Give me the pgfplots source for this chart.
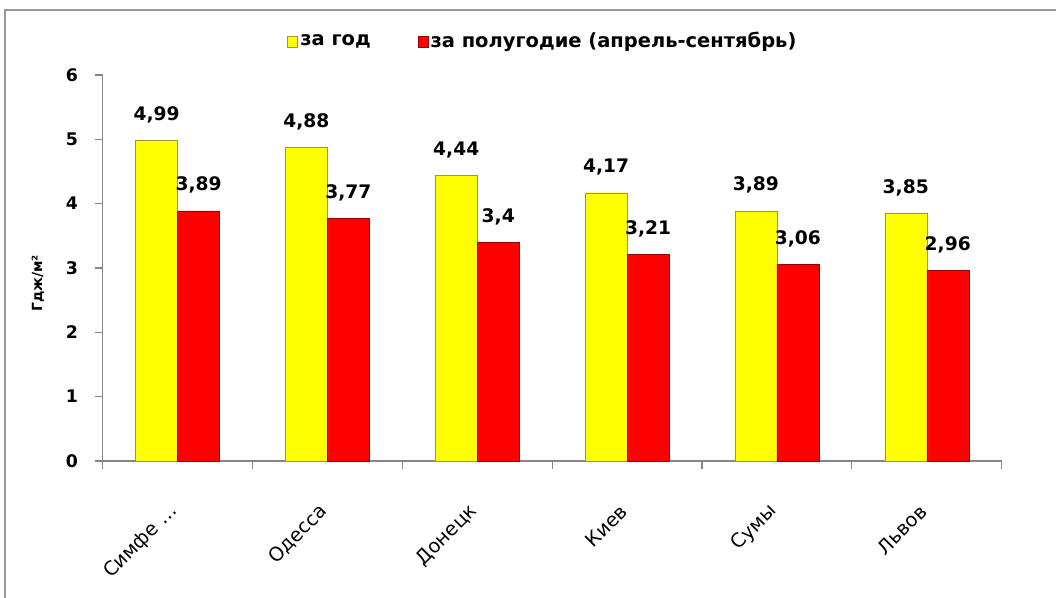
\documentclass[border=0pt]{standalone}
\usepackage{fontspec}
\setmainfont{DejaVu Sans}
\usepackage{pgfplots}
\pgfplotsset{compat=1.18}
\definecolor{ycol}{RGB}{255,255,0}
\definecolor{rcol}{RGB}{255,0,0}
\definecolor{axgray}{RGB}{134,134,134}
\begin{document}
\begin{tikzpicture}
\useasboundingbox (0pt,0pt) rectangle (792pt,-447.75pt);
\fill[white] (0pt,0pt) rectangle (792pt,-447.75pt);
\draw[color=black!40, line width=1.2pt] (3.75pt,-470pt) -- (3.75pt,-7.5pt) -- (820pt,-7.5pt);
\begin{axis}[
  at={(77pt,-345.75pt)}, anchor=south west,
  scale only axis, width=674.25pt, height=289.5pt,
  xmin=-0.5, xmax=5.5, ymin=0, ymax=6,
  clip=false,
  axis x line*=bottom, axis y line*=left,
  axis line style={draw=axgray, line width=0.9pt},
  tick align=outside,
  major tick length=6pt, minor tick length=6pt,
  ytick={0,1,2,3,4,5,6},
  ytick style={draw=axgray, line width=0.9pt},
  yticklabel style={font=\bfseries\fontsize{13}{15}\selectfont, xshift=-9pt},
  /pgf/number format/assume math mode=true,
  xtick={0,1,2,3,4,5},
  xticklabels={{Симфе \ldots}, Одесса, Донецк, Киев, Сумы, Львов},
  xtick style={draw=none},
  minor xtick={-0.5,0.5,1.5,2.5,3.5,4.5,5.5},
  minor x tick style={draw=axgray, line width=0.9pt},
  xticklabel style={font=\fontsize{14.5}{17}\selectfont, yshift=-27pt, rotate=45, anchor=east},
  ylabel={Гдж/м²},
  ylabel style={font=\bfseries\fontsize{10.5}{12}\selectfont, at={(axis description cs:-0.072,0.46)}, anchor=center, rotate=0},
  bar width=31.5pt,
  nodes near coords={\pgfmathprintnumber[use comma, fixed, precision=2]{\pgfplotspointmeta}},
  every node near coord/.append style={font=\bfseries\fontsize{14}{16}\selectfont, anchor=south, yshift=9.5pt},
  legend columns=2,
  legend style={at={(axis description cs:0.49,1.088)}, anchor=center, draw=none, fill=none,
    font=\bfseries\fontsize{14.6}{16}\selectfont,
    /tikz/every even column/.append style={column sep=33pt}},
  legend image code/.code={\fill[#1] (0pt,-4.5pt) rectangle (7.5pt,4pt);},
]
\addplot[ybar, bar shift=-15.75pt, fill=ycol, draw=yellow!55!black, line width=0.3pt,
  every node near coord/.append style={xshift=-15.75pt}]
  coordinates {(0,4.99) (1,4.88) (2,4.44) (3,4.17) (4,3.89) (5,3.85)};
\addplot[ybar, bar shift=15.75pt, fill=rcol, draw=red!60!black, line width=0.3pt,
  every node near coord/.append style={xshift=15.75pt}]
  coordinates {(0,3.89) (1,3.77) (2,3.4) (3,3.21) (4,3.06) (5,2.96)};
\legend{за год, за полугодие (апрель-сентябрь)}
\end{axis}
\end{tikzpicture}
\end{document}
